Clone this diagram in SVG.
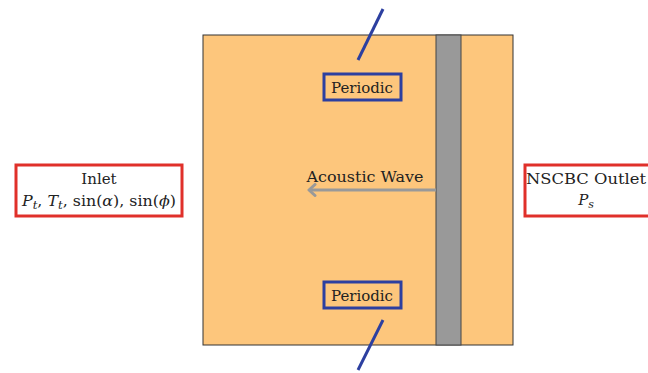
<svg xmlns="http://www.w3.org/2000/svg" width="648" height="373" viewBox="0 0 648 373">
<style>
text{font-family:"DejaVu Serif","Liberation Serif",serif;font-size:15px;fill:#222;text-anchor:middle}
.it{font-style:italic}
.blue{stroke:#2c3fa0;stroke-width:3}
.red{fill:#fff;stroke:#e0302a;stroke-width:3}
</style>
<defs>
<marker id="ah" markerWidth="12" markerHeight="14" refX="9" refY="7" orient="auto" markerUnits="userSpaceOnUse">
<path d="M3,1.5 L9,7 L3,12.5" fill="none" stroke="#999" stroke-width="3" stroke-linecap="round" stroke-linejoin="round"/>
</marker>
</defs>
<g id="domain">
<rect x="203" y="35" width="310" height="310" fill="#fdc67c" stroke="#333" stroke-width="1"/>
<rect x="436" y="35" width="25" height="310" fill="#999" stroke="#444" stroke-width="1"/>
</g>
<g id="connectors">
<line x1="383" y1="9" x2="358" y2="60" stroke="#2c3fa0" stroke-width="3"/>
<line x1="383" y1="320" x2="358" y2="370" stroke="#2c3fa0" stroke-width="3"/>
<line x1="436" y1="190" x2="309" y2="190" stroke="#999" stroke-width="3" marker-end="url(#ah)"/>
</g>
<g id="wave-label">
<text x="365" y="182" textLength="117" lengthAdjust="spacingAndGlyphs">Acoustic Wave</text>
</g>
<g id="periodic-top">
<rect x="324" y="74" width="77" height="26" fill="#fdc67c" class="blue"/>
<text x="362" y="93" textLength="62" lengthAdjust="spacingAndGlyphs">Periodic</text>
</g>
<g id="periodic-bottom">
<rect x="324" y="282" width="77" height="26" fill="#fdc67c" class="blue"/>
<text x="362" y="301" textLength="62" lengthAdjust="spacingAndGlyphs">Periodic</text>
</g>
<g id="inlet">
<rect x="16" y="165" width="166" height="51" class="red"/>
<text x="99" y="184">Inlet</text>
<text x="99" y="206" textLength="154" lengthAdjust="spacingAndGlyphs"><tspan class="it">P</tspan><tspan class="it" font-size="11" dy="3">t</tspan><tspan dy="-3">, </tspan><tspan class="it">T</tspan><tspan class="it" font-size="11" dy="3">t</tspan><tspan dy="-3">, sin(</tspan><tspan class="it">α</tspan><tspan>), sin(</tspan><tspan class="it">ϕ</tspan><tspan>)</tspan></text>
</g>
<g id="outlet">
<rect x="525" y="165" width="130" height="51" class="red"/>
<text x="586" y="184" textLength="120" lengthAdjust="spacingAndGlyphs">NSCBC Outlet</text>
<text x="586" y="205"><tspan class="it">P</tspan><tspan class="it" font-size="11" dy="3">s</tspan></text>
</g>
</svg>
